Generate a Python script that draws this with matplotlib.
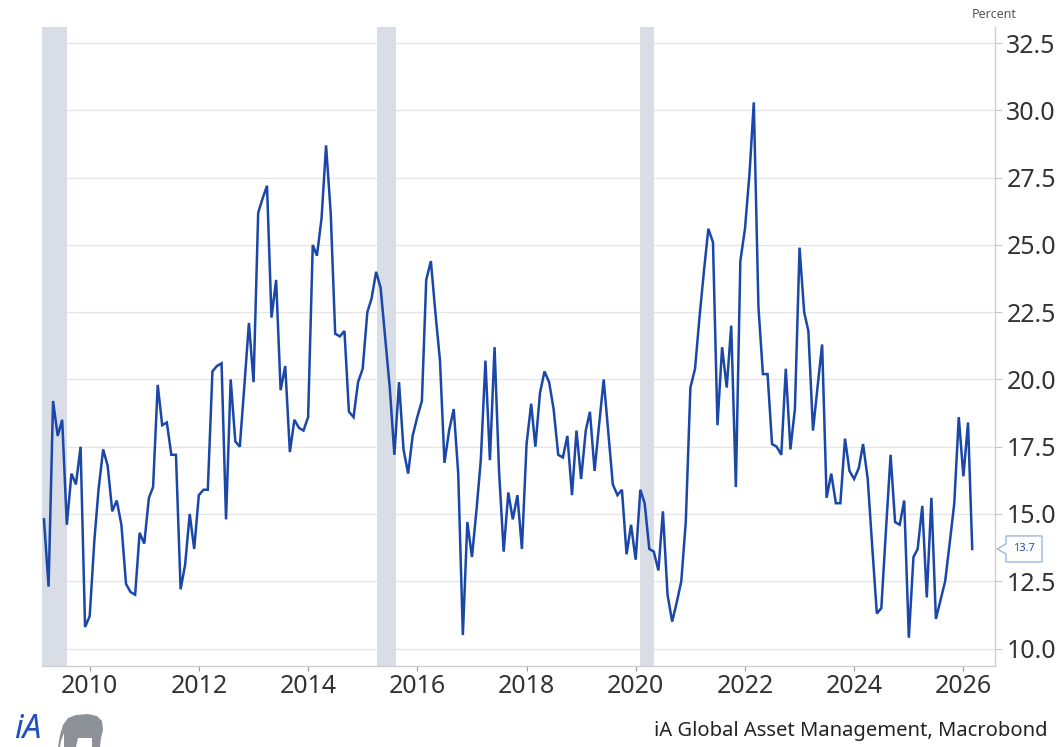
import matplotlib
matplotlib.use("Agg")
import matplotlib.pyplot as plt
import matplotlib.dates as mdates
from matplotlib.patches import Polygon
from matplotlib.transforms import IdentityTransform
import pandas as pd

# ---------------- data ----------------
start_month = "2009-03-01"          # first monthly observation

values_2009_2011 = [14.8, 12.3, 19.2, 17.9, 18.5, 14.6, 16.5, 16.1, 17.5, 10.8,
                    11.2, 14.0, 15.9, 17.4, 16.8, 15.1, 15.5, 14.6, 12.4, 12.1,
                    12.0, 14.3, 13.9, 15.6, 16.0, 19.8, 18.3, 18.4, 17.2, 17.2,
                    12.2, 13.1, 15.0, 13.7, 15.7, 15.9]
values_2012_2014 = [15.9, 20.3, 20.5, 20.6, 14.8, 20.0, 17.7, 17.5, 19.8, 22.1,
                    19.9, 26.2, 26.7, 27.2, 22.3, 23.7, 19.6, 20.5, 17.3, 18.5,
                    18.2, 18.1, 18.6, 25.0, 24.6, 26.0, 28.7, 26.2, 21.7, 21.6,
                    21.8, 18.8, 18.6, 19.9, 20.4, 22.5]
values_2015_2017 = [23.0, 24.0, 23.4, 21.5, 19.7, 17.2, 19.9, 17.4, 16.5, 17.9,
                    18.6, 19.2, 23.7, 24.4, 22.5, 20.7, 16.9, 18.1, 18.9, 16.5,
                    10.5, 14.7, 13.4, 15.2, 17.0, 20.7, 17.0, 21.2, 16.6, 13.6,
                    15.8, 14.8, 15.7, 13.7, 17.6, 19.1]
values_2018_2020 = [17.5, 19.5, 20.3, 19.9, 18.9, 17.2, 17.1, 17.9, 15.7, 18.1,
                    16.3, 18.1, 18.8, 16.6, 18.3, 20.0, 18.1, 16.1, 15.7, 15.9,
                    13.5, 14.6, 13.3, 15.9, 15.4, 13.7, 13.6, 12.9, 15.1, 12.0,
                    11.0, 11.7, 12.5, 14.7, 19.7, 20.4]
values_2021_2023 = [22.2, 24.0, 25.6, 25.1, 18.3, 21.2, 19.7, 22.0, 16.0, 24.4,
                    25.6, 27.7, 30.3, 22.7, 20.2, 20.2, 17.6, 17.5, 17.2, 20.4,
                    17.4, 18.9, 24.9, 22.5, 21.8, 18.1, 19.7, 21.3, 15.6, 16.5,
                    15.4, 15.4, 17.8, 16.6, 16.3, 16.7]
values_2024_2026 = [17.6, 16.3, 13.8, 11.3, 11.5, 14.4, 17.2, 14.7, 14.6, 15.5,
                    10.4, 13.4, 13.7, 15.3, 11.9, 15.6, 11.1, 11.8, 12.5, 13.9,
                    15.4, 18.6, 16.4, 18.4, 13.7]

recession_starts = ["2008-12-01", "2015-04-10", "2020-02-01"]
recession_ends = ["2009-08-05", "2015-08-10", "2020-05-01"]

y_ticks = [10.0, 12.5, 15.0, 17.5, 20.0, 22.5, 25.0, 27.5, 30.0, 32.5]
x_tick_years = [2010, 2012, 2014, 2016, 2018, 2020, 2022, 2024, 2026]

values = (values_2009_2011 + values_2012_2014 + values_2015_2017 +
          values_2018_2020 + values_2021_2023 + values_2024_2026)
dates = pd.date_range(start_month, periods=len(values), freq="MS")

# ---------------- style ----------------
plt.rcParams["font.family"] = ["Noto Sans", "DejaVu Sans"]
LINE_COL = "#1a47a8"
TXT_COL = "#333333"
W, H = 1059, 747

fig = plt.figure(figsize=(W / 100, H / 100), dpi=100)
fig.patch.set_facecolor("white")
ax = fig.add_axes([42 / W, 1 - 666 / H, (994.5 - 42) / W, (666 - 27) / H])

# recession shading
for s, e in zip(recession_starts, recession_ends):
    ax.axvspan(pd.Timestamp(s), pd.Timestamp(e), color="#d9dde6", lw=0, zorder=1)

ax.plot(dates, values, color=LINE_COL, lw=1.8, zorder=3, solid_joinstyle="miter")

ax.set_xlim(pd.Timestamp("2009-02-16"), pd.Timestamp("2026-07-28"))
ax.set_ylim(9.35, 33.1)

ax.set_yticks(y_ticks)
ax.set_yticklabels([f"{v:.1f}" for v in y_ticks])
ax.yaxis.tick_right()
ax.set_xticks([pd.Timestamp(f"{y}-01-01") for y in x_tick_years])
ax.set_xticklabels([str(y) for y in x_tick_years])

ax.tick_params(axis="y", length=5, width=0.8, color="#c8c8c8", pad=3.5,
               labelsize=18, labelcolor=TXT_COL)
ax.tick_params(axis="x", length=3.6, width=0.8, color="#9a9a9a", pad=2,
               labelsize=18, labelcolor=TXT_COL)
for lab in ax.get_xticklabels() + ax.get_yticklabels():
    lab.set_fontweight("light")

ax.grid(axis="y", color="#e6e6e6", lw=1.0, zorder=0.5)
ax.set_axisbelow(True)
for side in ("left", "top"):
    ax.spines[side].set_visible(False)
for side in ("right", "bottom"):
    ax.spines[side].set_color("#cccccc")
    ax.spines[side].set_linewidth(0.9)

# unit label
fig.text(994 / W, 1 - 15 / H, "Percent", ha="center", va="center",
         fontsize=9, color="#555555")

# source
fig.text(1048 / W, 1 - 731 / H, "iA Global Asset Management, Macrobond",
         ha="right", va="center", fontsize=14.5, color="#222222")

# logo
fig.text(14 / W, 1 - 745.5 / H, "iA", ha="left", va="bottom", fontsize=24,
         fontweight="bold", fontstyle="italic", color="#1f50c0")
elephant = [(64, 747), (64, 733), (61, 741), (60, 747), (58, 747), (60, 735),
            (63, 725), (68, 718), (76, 715), (88, 714), (97, 716), (102, 721),
            (103, 730), (101, 738), (100, 747), (92, 747), (92, 738), (78, 738),
            (76, 747)]
fig.add_artist(Polygon([(x / W, 1 - y / H) for x, y in elephant], closed=True,
                       transform=fig.transFigure, facecolor="#8d9299",
                       edgecolor="none"))

# last value callout
x_last, y_last = dates[-1], values[-1]
_, y0 = ax.transData.transform((mdates.date2num(x_last), y_last))
x0 = ax.transAxes.transform((1, 0))[0] + 2.5
call = [(x0, y0), (x0 + 9, y0 + 5), (x0 + 9, y0 + 13), (x0 + 45, y0 + 13),
        (x0 + 45, y0 - 13), (x0 + 9, y0 - 13), (x0 + 9, y0 - 5)]
fig.add_artist(Polygon(call, closed=True, transform=IdentityTransform(),
                       facecolor="white", edgecolor="#9fb6de", lw=1.0))
fig.text(x0 + 27, y0, f"{y_last:.1f}", transform=IdentityTransform(),
         ha="center", va="center", fontsize=8, fontweight="semibold",
         color="#2050b0")

fig.savefig("out.png", dpi=100)
